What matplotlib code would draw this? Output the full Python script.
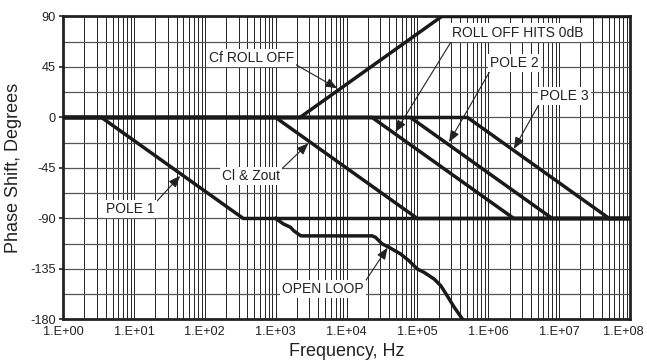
import numpy as np
import matplotlib.pyplot as plt
import matplotlib.transforms as mtransforms
from matplotlib.ticker import FixedLocator, FixedFormatter, NullFormatter

plt.rcParams['font.family'] = ['Liberation Sans', 'DejaVu Sans']
plt.rcParams['axes.unicode_minus'] = False

# ---- data ----
pole1_f  = [1, 3.5, 350, 1e8]
pole1_ph = [0, 0, -90, -90]

clzout_f  = [1, 1e3, 1e5, 1e8]
clzout_ph = [0, 0, -90, -90]

cf_f  = [1, 2.2e3, 2.2e5, 1e8]
cf_ph = [0, 0, 90, 90]

rolloff_f  = [1, 2.3e4, 2.3e6, 1e8]
rolloff_ph = [0, 0, -90, -90]

pole2_f  = [1, 8e4, 8e6, 1e8]
pole2_ph = [0, 0, -90, -90]

pole3_f  = [1, 5.1e5, 5.1e7, 1e8]
pole3_ph = [0, 0, -90, -90]

openloop_f  = [1000, 1290, 1620, 1800, 2240, 2370, 23100, 25700, 32000, 39800,
               58000, 75900, 99800, 124000, 172000, 214000, 263000, 331000, 437000]
openloop_ph = [-90, -94.9, -97.8, -100.9, -105.3, -105.5, -105.5, -106.8, -112.7, -115.7,
               -121.6, -127.6, -135, -138, -143.9, -149.9, -158.8, -169.1, -180]

x_ticks  = [1e0, 1e1, 1e2, 1e3, 1e4, 1e5, 1e6, 1e7, 1e8]
x_labels = ["1.E+00", "1.E+01", "1.E+02", "1.E+03", "1.E+04",
            "1.E+05", "1.E+06", "1.E+07", "1.E+08"]
y_ticks  = [-180, -135, -90, -45, 0, 45, 90]

# ---- figure ----
fig = plt.figure(figsize=(6.47, 3.64), dpi=100)
ax = fig.add_axes([0.0974, 0.1223, 0.8763, 0.8324])

ax.set_xscale('log')
ax.set_xlim(1, 1e8)
ax.set_ylim(-180, 90)

ax.xaxis.set_major_locator(FixedLocator(x_ticks))
ax.xaxis.set_major_formatter(FixedFormatter(x_labels))
minor_x = [m * 10.0**d for d in range(8) for m in range(2, 10)]
ax.xaxis.set_minor_locator(FixedLocator(minor_x))
ax.xaxis.set_minor_formatter(NullFormatter())
ax.yaxis.set_major_locator(FixedLocator(y_ticks))
ax.yaxis.set_minor_locator(FixedLocator(np.arange(-180, 91, 22.5)))

ax.grid(which='both', axis='x', color='#222222', lw=0.7)
ax.grid(which='both', axis='y', color='#555555', lw=0.9)
ax.tick_params(which='both', length=0, labelsize=9.2, colors='#222222')
ax.tick_params(axis='x', which='major', pad=5)
ax.tick_params(axis='y', which='major', length=3, width=1.2, pad=2)

# last x label sits a bit left so it stays inside the picture
fig.canvas.draw()
last = ax.get_xticklabels()[-1]
last.set_transform(last.get_transform() +
                   mtransforms.ScaledTranslation(-5 / 72, 0, fig.dpi_scale_trans))

for s in ax.spines.values():
    s.set_linewidth(2.0)
    s.set_color('#222222')

lw = 2.5
col = '#1a1a1a'
for f, ph in [(pole1_f, pole1_ph), (clzout_f, clzout_ph), (cf_f, cf_ph),
              (rolloff_f, rolloff_ph), (pole2_f, pole2_ph), (pole3_f, pole3_ph),
              (openloop_f, openloop_ph)]:
    ax.plot(f, ph, color=col, lw=lw, solid_joinstyle='miter', clip_on=True, zorder=3)

ax.set_xlabel('Frequency, Hz', fontsize=13, labelpad=3, color='#222222')
ax.set_ylabel('Phase Shift, Degrees', fontsize=13, labelpad=6, color='#222222')

box = dict(boxstyle='square,pad=0.15', fc='white', ec='none')


def note(text, xy, xytext, rel):
    ax.annotate(text, xy=xy, xytext=xytext, fontsize=10, ha='center', va='center',
                color='#222222', bbox=box, zorder=5,
                arrowprops=dict(arrowstyle='-|>,head_length=0.7,head_width=0.28',
                                color='#222222', lw=0.8, relpos=rel,
                                shrinkA=0, shrinkB=0))


note('Cf ROLL OFF', (7.4e3, 26), (455, 53), (1, 0.1))
note('Cl & Zout', (2.9e3, -23), (455, -52), (1, 0.9))
note('POLE 1', (45, -52), (9.0, -81.5), (1, 0.9))
note('OPEN LOOP', (3.8e4, -116), (4650, -153), (1, 0.9))
note('ROLL OFF HITS 0dB', (4.9e4, -13), (2.65e6, 75.7), (0, 0))
note('POLE 2', (2.8e5, -22), (2.37e6, 48.3), (0, 0))
note('POLE 3', (2.3e6, -28), (1.18e7, 19.4), (0, 0))

fig.savefig('out.png', dpi=100)
